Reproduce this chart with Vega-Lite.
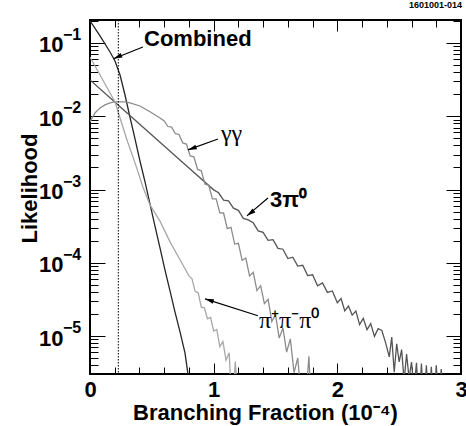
{
  "$schema": "https://vega.github.io/schema/vega-lite/v6.json",
  "width": 371,
  "height": 354,
  "autosize": {"type": "none"},
  "padding": {"left": 90, "top": 20, "right": 5, "bottom": 52},
  "background": "white",
  "config": {
    "view": {"stroke": "black", "strokeWidth": 2},
    "font": "Liberation Sans"
  },
  "title": {"text": "1601001-014", "anchor": "end", "fontSize": 9, "fontWeight": "bold", "font": "Liberation Sans", "color": "black", "offset": 2, "dx": -5},
  "datasets": {
    "curves": [
      {"series": "Combined", "bf": 0, "L": 0.2},
      {"series": "Combined", "bf": 0.081, "L": 0.125},
      {"series": "Combined", "bf": 0.162, "L": 0.0753},
      {"series": "Combined", "bf": 0.202, "L": 0.0568},
      {"series": "Combined", "bf": 0.243, "L": 0.0366},
      {"series": "Combined", "bf": 0.283, "L": 0.0195},
      {"series": "Combined", "bf": 0.323, "L": 0.00977},
      {"series": "Combined", "bf": 0.364, "L": 0.0049},
      {"series": "Combined", "bf": 0.404, "L": 0.00245},
      {"series": "Combined", "bf": 0.445, "L": 0.00127},
      {"series": "Combined", "bf": 0.485, "L": 0.000637},
      {"series": "Combined", "bf": 0.525, "L": 0.000319},
      {"series": "Combined", "bf": 0.566, "L": 0.00016},
      {"series": "Combined", "bf": 0.606, "L": 0.00008},
      {"series": "Combined", "bf": 0.647, "L": 0.0000414},
      {"series": "Combined", "bf": 0.687, "L": 0.0000214},
      {"series": "Combined", "bf": 0.728, "L": 0.0000114},
      {"series": "Combined", "bf": 0.768, "L": 0.0000059},
      {"series": "Combined", "bf": 0.792, "L": 0.00000305},
      {"series": "Combined", "bf": 0.81, "L": 0.0000015},

      {"series": "3pi0", "bf": 0, "L": 0.0313},
      {"series": "3pi0", "bf": 0.25, "L": 0.0132},
      {"series": "3pi0", "bf": 0.5, "L": 0.00556},
      {"series": "3pi0", "bf": 0.75, "L": 0.00234},
      {"series": "3pi0", "bf": 1.0, "L": 0.000989},
      {"series": "3pi0", "bf": 1.04, "L": 0.000902},
      {"series": "3pi0", "bf": 1.08, "L": 0.000716},
      {"series": "3pi0", "bf": 1.12, "L": 0.0007},
      {"series": "3pi0", "bf": 1.16, "L": 0.000556},
      {"series": "3pi0", "bf": 1.2, "L": 0.000519},
      {"series": "3pi0", "bf": 1.24, "L": 0.000403},
      {"series": "3pi0", "bf": 1.28, "L": 0.000385},
      {"series": "3pi0", "bf": 1.32, "L": 0.000351},
      {"series": "3pi0", "bf": 1.36, "L": 0.000272},
      {"series": "3pi0", "bf": 1.4, "L": 0.00026},
      {"series": "3pi0", "bf": 1.44, "L": 0.000202},
      {"series": "3pi0", "bf": 1.48, "L": 0.000207},
      {"series": "3pi0", "bf": 1.52, "L": 0.000157},
      {"series": "3pi0", "bf": 1.56, "L": 0.000153},
      {"series": "3pi0", "bf": 1.6, "L": 0.000114},
      {"series": "3pi0", "bf": 1.64, "L": 0.000119},
      {"series": "3pi0", "bf": 1.68, "L": 0.0000902},
      {"series": "3pi0", "bf": 1.72, "L": 0.0000923},
      {"series": "3pi0", "bf": 1.76, "L": 0.0000668},
      {"series": "3pi0", "bf": 1.8, "L": 0.0000684},
      {"series": "3pi0", "bf": 1.84, "L": 0.0000484},
      {"series": "3pi0", "bf": 1.88, "L": 0.0000531},
      {"series": "3pi0", "bf": 1.92, "L": 0.0000394},
      {"series": "3pi0", "bf": 1.96, "L": 0.0000412},
      {"series": "3pi0", "bf": 2.0, "L": 0.0000285},
      {"series": "3pi0", "bf": 2.03, "L": 0.0000324},
      {"series": "3pi0", "bf": 2.06, "L": 0.0000221},
      {"series": "3pi0", "bf": 2.09, "L": 0.0000257},
      {"series": "3pi0", "bf": 2.12, "L": 0.0000193},
      {"series": "3pi0", "bf": 2.15, "L": 0.0000219},
      {"series": "3pi0", "bf": 2.18, "L": 0.0000143},
      {"series": "3pi0", "bf": 2.21, "L": 0.0000174},
      {"series": "3pi0", "bf": 2.24, "L": 0.0000122},
      {"series": "3pi0", "bf": 2.27, "L": 0.0000148},
      {"series": "3pi0", "bf": 2.3, "L": 0.00000989},
      {"series": "3pi0", "bf": 2.33, "L": 0.0000126},
      {"series": "3pi0", "bf": 2.36, "L": 0.0000119},
      {"series": "3pi0", "bf": 2.39, "L": 0.00000813},
      {"series": "3pi0", "bf": 2.42, "L": 0.00000519},
      {"series": "3pi0", "bf": 2.44, "L": 0.00000966},
      {"series": "3pi0", "bf": 2.46, "L": 0.0000032},
      {"series": "3pi0", "bf": 2.48, "L": 0.00000785},
      {"series": "3pi0", "bf": 2.5, "L": 0.00000442},
      {"series": "3pi0", "bf": 2.52, "L": 0.00000653},
      {"series": "3pi0", "bf": 2.54, "L": 0.00000243},
      {"series": "3pi0", "bf": 2.56, "L": 0.00000569},
      {"series": "3pi0", "bf": 2.58, "L": 0.00000266},
      {"series": "3pi0", "bf": 2.6, "L": 0.00000442},
      {"series": "3pi0", "bf": 2.62, "L": 0.00000184},
      {"series": "3pi0", "bf": 2.64, "L": 0.00000432},
      {"series": "3pi0", "bf": 2.66, "L": 0.000001},
      {"series": "3pi0", "bf": 2.68, "L": 0.00000422},
      {"series": "3pi0", "bf": 2.7, "L": 0.000001},
      {"series": "3pi0", "bf": 2.72, "L": 0.00000398},
      {"series": "3pi0", "bf": 2.74, "L": 0.000001},
      {"series": "3pi0", "bf": 2.76, "L": 0.0000038},
      {"series": "3pi0", "bf": 2.78, "L": 0.000001},
      {"series": "3pi0", "bf": 2.8, "L": 0.00000398},
      {"series": "3pi0", "bf": 2.82, "L": 0.000001},
      {"series": "3pi0", "bf": 2.84, "L": 0.00000355},
      {"series": "3pi0", "bf": 2.86, "L": 0.000001},

      {"series": "gg", "bf": 0, "L": 0.00836},
      {"series": "gg", "bf": 0.04, "L": 0.0111},
      {"series": "gg", "bf": 0.081, "L": 0.013},
      {"series": "gg", "bf": 0.121, "L": 0.0143},
      {"series": "gg", "bf": 0.162, "L": 0.0152},
      {"series": "gg", "bf": 0.202, "L": 0.0157},
      {"series": "gg", "bf": 0.243, "L": 0.0157},
      {"series": "gg", "bf": 0.283, "L": 0.0157},
      {"series": "gg", "bf": 0.323, "L": 0.0152},
      {"series": "gg", "bf": 0.404, "L": 0.0138},
      {"series": "gg", "bf": 0.485, "L": 0.0115},
      {"series": "gg", "bf": 0.566, "L": 0.00948},
      {"series": "gg", "bf": 0.6, "L": 0.00861},
      {"series": "gg", "bf": 0.63, "L": 0.00724},
      {"series": "gg", "bf": 0.66, "L": 0.00711},
      {"series": "gg", "bf": 0.69, "L": 0.00577},
      {"series": "gg", "bf": 0.72, "L": 0.00564},
      {"series": "gg", "bf": 0.75, "L": 0.00432},
      {"series": "gg", "bf": 0.78, "L": 0.00417},
      {"series": "gg", "bf": 0.81, "L": 0.00288},
      {"series": "gg", "bf": 0.84, "L": 0.00279},
      {"series": "gg", "bf": 0.87, "L": 0.00188},
      {"series": "gg", "bf": 0.9, "L": 0.0018},
      {"series": "gg", "bf": 0.93, "L": 0.00118},
      {"series": "gg", "bf": 0.96, "L": 0.00115},
      {"series": "gg", "bf": 0.99, "L": 0.000745},
      {"series": "gg", "bf": 1.02, "L": 0.000743},
      {"series": "gg", "bf": 1.05, "L": 0.000479},
      {"series": "gg", "bf": 1.08, "L": 0.000478},
      {"series": "gg", "bf": 1.11, "L": 0.000293},
      {"series": "gg", "bf": 1.14, "L": 0.000304},
      {"series": "gg", "bf": 1.17, "L": 0.00018},
      {"series": "gg", "bf": 1.2, "L": 0.000184},
      {"series": "gg", "bf": 1.23, "L": 0.000108},
      {"series": "gg", "bf": 1.26, "L": 0.000116},
      {"series": "gg", "bf": 1.29, "L": 0.0000661},
      {"series": "gg", "bf": 1.32, "L": 0.0000741},
      {"series": "gg", "bf": 1.35, "L": 0.0000417},
      {"series": "gg", "bf": 1.38, "L": 0.0000486},
      {"series": "gg", "bf": 1.41, "L": 0.0000277},
      {"series": "gg", "bf": 1.44, "L": 0.0000318},
      {"series": "gg", "bf": 1.47, "L": 0.0000158},
      {"series": "gg", "bf": 1.5, "L": 0.0000196},
      {"series": "gg", "bf": 1.53, "L": 0.00000935},
      {"series": "gg", "bf": 1.56, "L": 0.0000129},
      {"series": "gg", "bf": 1.59, "L": 0.00000603},
      {"series": "gg", "bf": 1.62, "L": 0.00000912},
      {"series": "gg", "bf": 1.65, "L": 0.00000316},
      {"series": "gg", "bf": 1.68, "L": 0.00000501},
      {"series": "gg", "bf": 1.71, "L": 0.0000013},
      {"series": "gg", "bf": 1.74, "L": 0.000001},
      {"series": "gg", "bf": 1.77, "L": 0.0000053},
      {"series": "gg", "bf": 1.79, "L": 0.000001},

      {"series": "pipipi0", "bf": 0, "L": 0.0644},
      {"series": "pipipi0", "bf": 0.081, "L": 0.0366},
      {"series": "pipipi0", "bf": 0.162, "L": 0.0208},
      {"series": "pipipi0", "bf": 0.202, "L": 0.0157},
      {"series": "pipipi0", "bf": 0.243, "L": 0.00948},
      {"series": "pipipi0", "bf": 0.299, "L": 0.00475},
      {"series": "pipipi0", "bf": 0.364, "L": 0.00231},
      {"series": "pipipi0", "bf": 0.428, "L": 0.00108},
      {"series": "pipipi0", "bf": 0.485, "L": 0.000616},
      {"series": "pipipi0", "bf": 0.566, "L": 0.00037},
      {"series": "pipipi0", "bf": 0.647, "L": 0.000193},
      {"series": "pipipi0", "bf": 0.728, "L": 0.00011},
      {"series": "pipipi0", "bf": 0.8, "L": 0.0000661},
      {"series": "pipipi0", "bf": 0.825, "L": 0.0000603},
      {"series": "pipipi0", "bf": 0.85, "L": 0.0000407},
      {"series": "pipipi0", "bf": 0.875, "L": 0.0000389},
      {"series": "pipipi0", "bf": 0.9, "L": 0.0000248},
      {"series": "pipipi0", "bf": 0.925, "L": 0.0000243},
      {"series": "pipipi0", "bf": 0.95, "L": 0.0000172},
      {"series": "pipipi0", "bf": 0.975, "L": 0.000018},
      {"series": "pipipi0", "bf": 1.0, "L": 0.0000117},
      {"series": "pipipi0", "bf": 1.025, "L": 0.0000123},
      {"series": "pipipi0", "bf": 1.05, "L": 0.00000716},
      {"series": "pipipi0", "bf": 1.075, "L": 0.00000841},
      {"series": "pipipi0", "bf": 1.1, "L": 0.00000468},
      {"series": "pipipi0", "bf": 1.125, "L": 0.00000589},
      {"series": "pipipi0", "bf": 1.15, "L": 0.000001},
      {"series": "pipipi0", "bf": 1.175, "L": 0.0000045},
      {"series": "pipipi0", "bf": 1.2, "L": 0.000001}
    ],
    "limit": [{"bf": 0.229}],
    "arrows": [
      {"name": "Combined", "bf": 0.428, "L": 0.0882, "bf2": 0.19, "L2": 0.061},
      {"name": "gg", "bf": 1.035, "L": 0.0049, "bf2": 0.792, "L2": 0.00347},
      {"name": "3pi0", "bf": 1.439, "L": 0.000767, "bf2": 1.269, "L2": 0.000437},
      {"name": "pipipi0", "bf": 1.358, "L": 0.0000189, "bf2": 0.93, "L2": 0.0000322}
    ],
    "labels": [
      {"name": "Combined", "text": "Combined", "bf": 0.437, "L": 0.0896, "style": "sans"},
      {"name": "3pi0", "text": "3π⁰", "bf": 1.455, "L": 0.00058, "style": "sans"},
      {"name": "gg", "text": "γγ", "bf": 1.059, "L": 0.0046, "style": "serif"},
      {"name": "pipipi0", "text": "π⁺π⁻π⁰", "bf": 1.366, "L": 0.0000129, "style": "serif"}
    ],
    "yexp": [
      {"L": 0.1, "exp": "−1"},
      {"L": 0.01, "exp": "−2"},
      {"L": 0.001, "exp": "−3"},
      {"L": 0.0001, "exp": "−4"},
      {"L": 0.00001, "exp": "−5"}
    ]
  },
  "resolve": {"axis": {"x": "independent", "y": "independent"}},
  "layer": [
    {
      "data": {"name": "curves"},
      "mark": {"type": "line", "strokeWidth": 1.3, "clip": true},
      "encoding": {
        "x": {"field": "bf", "type": "quantitative", "scale": {"domain": [0, 3], "nice": false, "zero": false},
          "axis": {"orient": "bottom", "values": [0, 0.2, 0.4, 0.6, 0.8, 1, 1.2, 1.4, 1.6, 1.8, 2, 2.2, 2.4, 2.6, 2.8, 3],
            "domain": false, "ticks": false,
            "grid": true, "gridColor": "black", "gridOpacity": 1, "gridWidth": 1,
            "gridDash": {"condition": {"test": "datum.value % 1 === 0", "value": [11, 2000]}, "value": [7, 2000]},
            "labelExpr": "datum.value % 1 === 0 ? '' + datum.value : ''",
            "labelColor": "black", "labelFontSize": 22, "labelFontWeight": "bold", "labelPadding": 5, "labelFlush": false, "labelOverlap": false,
            "title": "Branching Fraction (10⁻⁴)", "titleColor": "black", "titleFontSize": 22, "titleFontWeight": "bold", "titleX": 175, "titleY": 28, "titleBaseline": "top", "titleAnchor": "middle"}},
        "y": {"field": "L", "type": "quantitative", "scale": {"type": "log", "domain": [0.00000303, 0.206], "nice": false},
          "axis": {"orient": "left",
            "values": [0.000003, 0.000004, 0.000005, 0.000006, 0.000007, 0.000008, 0.000009, 0.00001, 0.00002, 0.00003, 0.00004, 0.00005, 0.00006, 0.00007, 0.00008, 0.00009, 0.0001, 0.0002, 0.0003, 0.0004, 0.0005, 0.0006, 0.0007, 0.0008, 0.0009, 0.001, 0.002, 0.003, 0.004, 0.005, 0.006, 0.007, 0.008, 0.009, 0.01, 0.02, 0.03, 0.04, 0.05, 0.06, 0.07, 0.08, 0.09, 0.1, 0.2],
            "domain": false, "ticks": false,
            "grid": true, "gridColor": "black", "gridOpacity": 1, "gridWidth": 1,
            "gridDash": {"condition": {"test": "abs(log(datum.value)/LN10 - round(log(datum.value)/LN10)) < 0.001", "value": [15, 2000]}, "value": [8, 2000]},
            "labelExpr": "abs(log(datum.value)/LN10 - round(log(datum.value)/LN10)) < 0.001 ? '10' : ''",
            "labelColor": "black", "labelFontSize": 22, "labelFontWeight": "bold", "labelPadding": 27, "labelOffset": 2, "labelOverlap": false, "labelFlush": false,
            "title": "Likelihood", "titleColor": "black", "titleFontSize": 22, "titleFontWeight": "bold", "titleX": -61, "titleY": 168, "titleBaseline": "middle", "titleAngle": -90}},
        "color": {"field": "series", "type": "nominal", "legend": null,
          "scale": {"domain": ["Combined", "3pi0", "gg", "pipipi0"], "range": ["#262626", "#555555", "#8c8c8c", "#a8a8a8"]}}
      }
    },
    {
      "data": {"name": "limit"},
      "mark": {"type": "rule", "color": "black", "strokeWidth": 1, "strokeDash": [1.5, 1.5]},
      "encoding": {
        "x": {"field": "bf", "type": "quantitative", "scale": {"domain": [0, 3], "nice": false, "zero": false}, "axis": null}
      }
    },
    {
      "data": {"name": "arrows"},
      "mark": {"type": "rule", "color": "black", "strokeWidth": 1.2},
      "encoding": {
        "x": {"field": "bf", "type": "quantitative", "scale": {"domain": [0, 3], "nice": false, "zero": false},
          "axis": {"orient": "top", "values": [0, 0.2, 0.4, 0.6, 0.8, 1, 1.2, 1.4, 1.6, 1.8, 2, 2.2, 2.4, 2.6, 2.8, 3],
            "domain": false, "ticks": false, "labels": false, "title": null,
            "grid": true, "gridColor": "black", "gridOpacity": 1, "gridWidth": 1,
            "gridDash": {"condition": {"test": "datum.value % 1 === 0", "value": [11, 2000]}, "value": [7, 2000]}}},
        "y": {"field": "L", "type": "quantitative", "scale": {"type": "log", "domain": [0.00000303, 0.206], "nice": false},
          "axis": {"orient": "right",
            "values": [0.000003, 0.000004, 0.000005, 0.000006, 0.000007, 0.000008, 0.000009, 0.00001, 0.00002, 0.00003, 0.00004, 0.00005, 0.00006, 0.00007, 0.00008, 0.00009, 0.0001, 0.0002, 0.0003, 0.0004, 0.0005, 0.0006, 0.0007, 0.0008, 0.0009, 0.001, 0.002, 0.003, 0.004, 0.005, 0.006, 0.007, 0.008, 0.009, 0.01, 0.02, 0.03, 0.04, 0.05, 0.06, 0.07, 0.08, 0.09, 0.1, 0.2],
            "domain": false, "ticks": false, "labels": false, "title": null,
            "grid": true, "gridColor": "black", "gridOpacity": 1, "gridWidth": 1,
            "gridDash": {"condition": {"test": "abs(log(datum.value)/LN10 - round(log(datum.value)/LN10)) < 0.001", "value": [15, 2000]}, "value": [8, 2000]}}},
        "x2": {"field": "bf2"},
        "y2": {"field": "L2"}
      }
    },
    {
      "data": {"name": "arrows"},
      "transform": [{"filter": "datum.name === 'Combined'"}],
      "mark": {"type": "point", "shape": "M0,0L0.6,2.2L-0.6,2.2Z", "filled": true, "color": "black", "opacity": 1, "size": 64, "angle": 246.5},
      "encoding": {
        "x": {"field": "bf2", "type": "quantitative", "scale": {"domain": [0, 3], "nice": false, "zero": false}, "axis": null},
        "y": {"field": "L2", "type": "quantitative", "scale": {"type": "log", "domain": [0.00000303, 0.206], "nice": false}, "axis": null}
      }
    },
    {
      "data": {"name": "arrows"},
      "transform": [{"filter": "datum.name === 'gg'"}],
      "mark": {"type": "point", "shape": "M0,0L0.6,2.2L-0.6,2.2Z", "filled": true, "color": "black", "opacity": 1, "size": 64, "angle": 250},
      "encoding": {
        "x": {"field": "bf2", "type": "quantitative", "scale": {"domain": [0, 3], "nice": false, "zero": false}, "axis": null},
        "y": {"field": "L2", "type": "quantitative", "scale": {"type": "log", "domain": [0.00000303, 0.206], "nice": false}, "axis": null}
      }
    },
    {
      "data": {"name": "arrows"},
      "transform": [{"filter": "datum.name === '3pi0'"}],
      "mark": {"type": "point", "shape": "M0,0L0.6,2.2L-0.6,2.2Z", "filled": true, "color": "black", "opacity": 1, "size": 64, "angle": 232.7},
      "encoding": {
        "x": {"field": "bf2", "type": "quantitative", "scale": {"domain": [0, 3], "nice": false, "zero": false}, "axis": null},
        "y": {"field": "L2", "type": "quantitative", "scale": {"type": "log", "domain": [0.00000303, 0.206], "nice": false}, "axis": null}
      }
    },
    {
      "data": {"name": "arrows"},
      "transform": [{"filter": "datum.name === 'pipipi0'"}],
      "mark": {"type": "point", "shape": "M0,0L0.6,2.2L-0.6,2.2Z", "filled": true, "color": "black", "opacity": 1, "size": 64, "angle": 287.8},
      "encoding": {
        "x": {"field": "bf2", "type": "quantitative", "scale": {"domain": [0, 3], "nice": false, "zero": false}, "axis": null},
        "y": {"field": "L2", "type": "quantitative", "scale": {"type": "log", "domain": [0.00000303, 0.206], "nice": false}, "axis": null}
      }
    },
    {
      "data": {"name": "labels"},
      "transform": [{"filter": "datum.style === 'sans'"}],
      "mark": {"type": "text", "align": "left", "baseline": "alphabetic", "font": "Liberation Sans", "fontWeight": "bold", "fontSize": 22, "color": "black"},
      "encoding": {
        "x": {"field": "bf", "type": "quantitative", "scale": {"domain": [0, 3], "nice": false, "zero": false}, "axis": null},
        "y": {"field": "L", "type": "quantitative", "scale": {"type": "log", "domain": [0.00000303, 0.206], "nice": false}, "axis": null},
        "text": {"field": "text"}
      }
    },
    {
      "data": {"name": "labels"},
      "transform": [{"filter": "datum.style === 'serif'"}],
      "mark": {"type": "text", "align": "left", "baseline": "alphabetic", "font": "Liberation Serif", "fontSize": 24, "color": "black"},
      "encoding": {
        "x": {"field": "bf", "type": "quantitative", "scale": {"domain": [0, 3], "nice": false, "zero": false}, "axis": null},
        "y": {"field": "L", "type": "quantitative", "scale": {"type": "log", "domain": [0.00000303, 0.206], "nice": false}, "axis": null},
        "text": {"field": "text"}
      }
    },
    {
      "data": {"name": "yexp"},
      "mark": {"type": "text", "align": "left", "baseline": "middle", "font": "Liberation Sans", "fontWeight": "bold", "fontSize": 16, "color": "black", "dx": -27, "dy": -8},
      "encoding": {
        "x": {"datum": 0, "type": "quantitative", "scale": {"domain": [0, 3], "nice": false, "zero": false}, "axis": null},
        "y": {"field": "L", "type": "quantitative", "scale": {"type": "log", "domain": [0.00000303, 0.206], "nice": false}, "axis": null},
        "text": {"field": "exp"}
      }
    }
  ]
}
